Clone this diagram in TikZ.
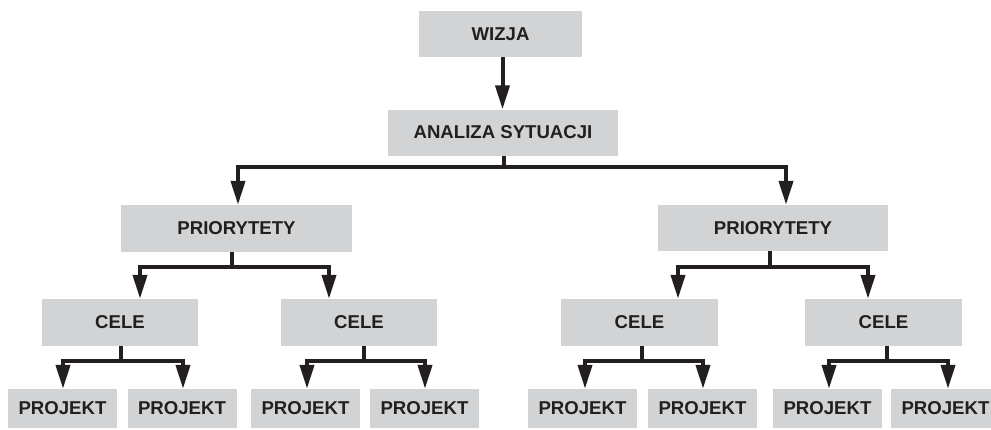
\documentclass[tikz,border=0pt]{standalone}
\usepackage{fontspec}
\setmainfont{Liberation Sans}
\usetikzlibrary{arrows.meta}
\definecolor{boxgray}{HTML}{D1D3D4}
\definecolor{ink}{HTML}{231F20}
\begin{document}
\begin{tikzpicture}[x=1pt,y=-1pt,
  box/.style={fill=boxgray, draw=none, inner sep=0pt, anchor=center,
    text=ink, font=\fontsize{18.6}{21}\selectfont\bfseries},
  bigbox/.style={box, minimum height=46pt},
  projbox/.style={box, minimum width=109pt, minimum height=39pt},
  tree/.style={draw=ink, line width=4pt, line join=miter},
  fork/.style={tree, {Triangle[length=24pt,width=14pt]}-{Triangle[length=24pt,width=14pt]}},
  single/.style={tree, -{Triangle[length=24pt,width=14pt]}}]
\path[use as bounding box, clip] (0,0) rectangle (991,429);

% top of the hierarchy
\node[bigbox, minimum width=163pt] (wiz) at (500.5,34) {WIZJA};
\node[bigbox, minimum width=230pt] (ana) at (503,132.5) {ANALIZA SYTUACJI};

% priorities
\node[bigbox, minimum width=231pt, minimum height=47pt] (prL) at (236.5,228.5) {PRIORYTETY};
\node[bigbox, minimum width=230pt] (prR) at (773,228) {PRIORYTETY};

% goals
\node[bigbox, minimum width=156pt, minimum height=47pt] (c1) at (120,322.5) {CELE};
\node[bigbox, minimum width=156pt, minimum height=47pt] (c2) at (359,322.5) {CELE};
\node[bigbox, minimum width=157pt, minimum height=47pt] (c3) at (639.5,322.5) {CELE};
\node[bigbox, minimum width=157pt, minimum height=47pt] (c4) at (883.5,322.5) {CELE};

% projects
\node[projbox] (p1) at (62.5,408.5) {PROJEKT};
\node[projbox] (p2) at (182,408.5) {PROJEKT};
\node[projbox] (p3) at (305.5,408.5) {PROJEKT};
\node[projbox] (p4) at (424.5,408.5) {PROJEKT};
\node[projbox] (p5) at (582.5,408.5) {PROJEKT};
\node[projbox] (p6) at (702.5,408.5) {PROJEKT};
\node[projbox] (p7) at (827.5,408.5) {PROJEKT};
\node[projbox] (p8) at (945.5,408.5) {PROJEKT};

% junction points on the horizontal bars
\coordinate (jA) at (504,167);
\coordinate (jL) at (232,267);
\coordinate (jR) at (770,267);
\coordinate (j1) at (121,361);
\coordinate (j2) at (364,361);
\coordinate (j3) at (642,361);
\coordinate (j4) at (887,361);

% vision -> analysis
\draw[single] ([xshift=2pt]wiz.south) -- ([xshift=-0.5pt]ana.north);

% analysis -> priorities
\draw[tree] ([xshift=1pt]ana.south) -- (jA);
\draw[fork] ([xshift=1.5pt]prL.north) -- ++(0,-38) -| ([xshift=13pt]prR.north);

% priorities -> goals
\draw[tree] (prL.south -| jL) -- (jL);
\draw[fork] ([xshift=20pt]c1.north) -- ++(0,-32) -| ([xshift=-30pt]c2.north);
\draw[tree] (prR.south -| jR) -- (jR);
\draw[fork] ([xshift=38.5pt]c3.north) -- ++(0,-32) -| ([xshift=-15.5pt]c4.north);

% goals -> projects
\draw[tree] (c1.south -| j1) -- (j1);
\draw[fork] ([xshift=0.5pt]p1.north) -- ++(0,-28) -| ([xshift=1pt]p2.north);
\draw[tree] (c2.south -| j2) -- (j2);
\draw[fork] ([xshift=1.5pt]p3.north) -- ++(0,-28) -| ([xshift=0.5pt]p4.north);
\draw[tree] (c3.south -| j3) -- (j3);
\draw[fork] ([xshift=2.5pt]p5.north) -- ++(0,-28) -| ([xshift=0.5pt]p6.north);
\draw[tree] (c4.south -| j4) -- (j4);
\draw[fork] ([xshift=1.5pt]p7.north) -- ++(0,-28) -| ([xshift=2.5pt]p8.north);
\end{tikzpicture}
\end{document}
